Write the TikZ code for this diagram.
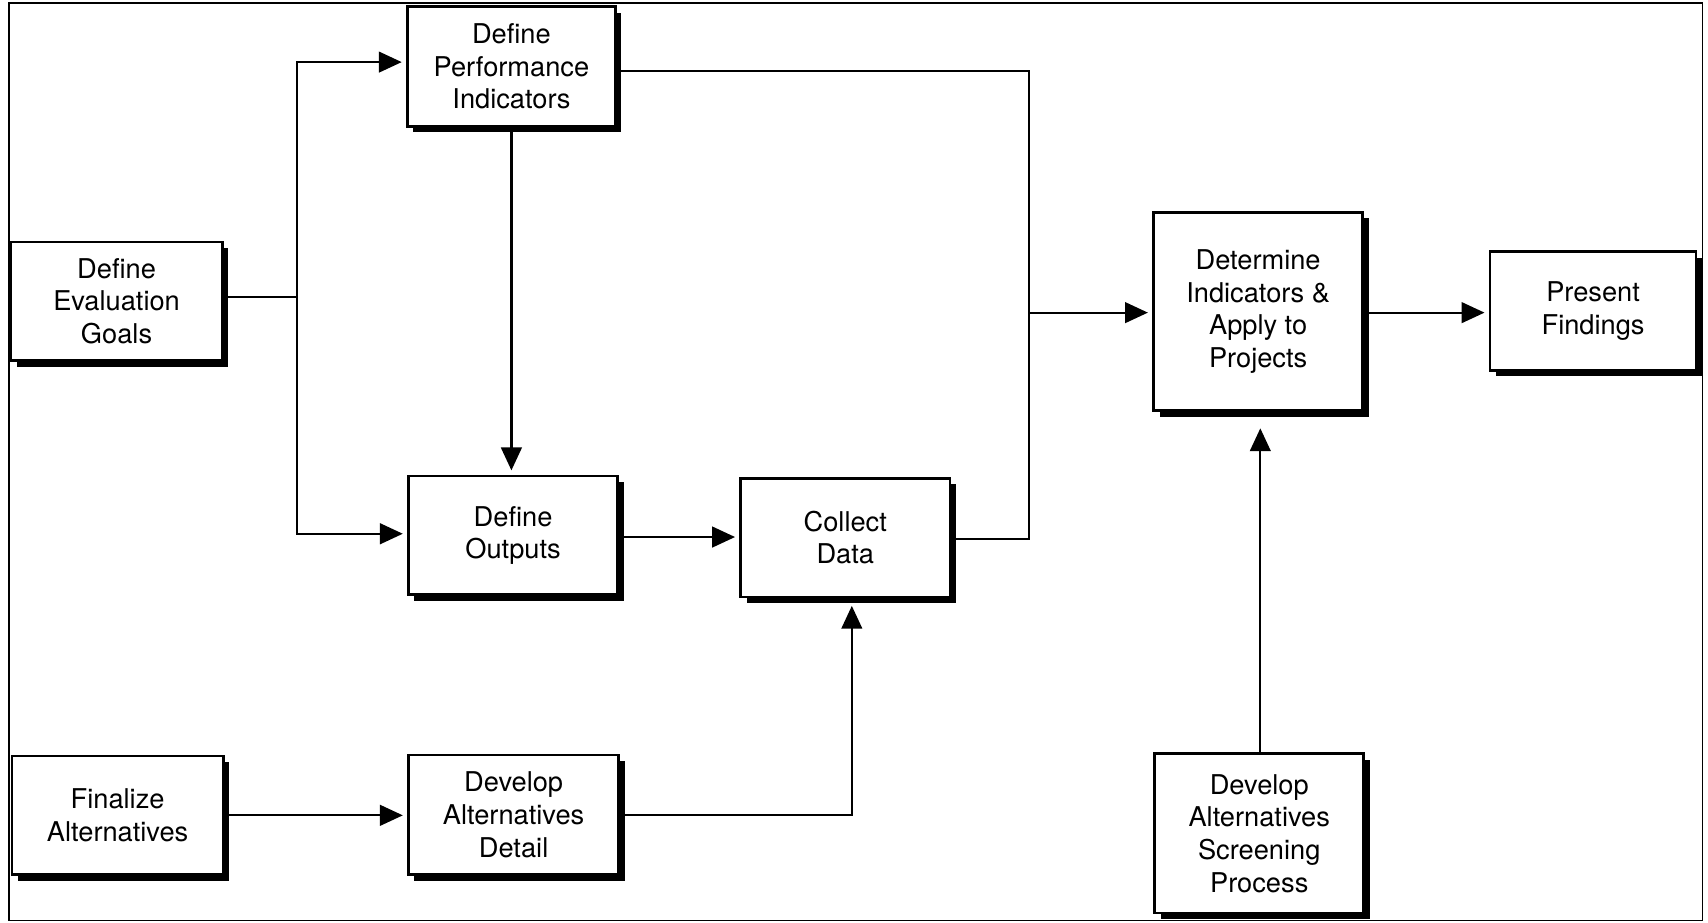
\documentclass[tikz,border=0pt]{standalone}
\usepackage{fontspec}
\setmainfont{TeX Gyre Heros}
\usetikzlibrary{arrows.meta,shadows}
\begin{document}
\begin{tikzpicture}[x=1pt,y=-1pt,
  box/.style={draw=black, line width=2.4pt, fill=white, align=center, inner sep=0pt,
    font=\fontsize{25}{30}\selectfont,
    drop shadow={shadow xshift=5.5pt, shadow yshift=-5.5pt, fill=black, opacity=1}},
  conn/.style={line width=2pt},
  arr/.style={conn, -{Triangle[length=21pt,width=19pt]}, shorten >=4pt}]
\useasboundingbox (0,0) rectangle (1568,847);
\draw[line width=1.6pt] (8,3) rectangle (1563,845);

\node[box, minimum width=194pt, minimum height=109pt] (goals) at (107,276.5) {Define\\Evaluation\\Goals};
\node[box, minimum width=191pt, minimum height=110pt] (perf) at (469.5,61) {Define\\Performance\\Indicators};
\node[box, minimum width=192pt, minimum height=109pt] (outputs) at (471,491.5) {Define\\Outputs};
\node[box, minimum width=192pt, minimum height=109pt] (collect) at (776,493.5) {Collect\\Data};
\node[box, minimum width=194pt, minimum height=109pt] (finalize) at (108,748.5) {Finalize\\Alternatives};
\node[box, minimum width=193pt, minimum height=110pt] (detail) at (471.5,748) {Develop\\Alternatives\\Detail};
\node[box, minimum width=192pt, minimum height=182pt] (determine) at (1155,286) {Determine\\Indicators \&\\Apply to\\Projects};
\node[box, minimum width=189pt, minimum height=109pt] (present) at (1462.5,285.5) {Present\\Findings};
\node[box, minimum width=192pt, minimum height=146pt] (screening) at (1156,765) {Develop\\Alternatives\\Screening\\Process};

\coordinate (ja) at (273,57);
\coordinate (jb) at (273,490);
\coordinate (jm) at (273,273);
\coordinate (ka) at (945,65);
\coordinate (kb) at (945,495);
\coordinate (km) at (945,287);
\coordinate (lc) at (782,748);

\draw[conn] (goals.east |- jm) -- (jm);
\draw[arr] (jm) -- (ja) -- (perf.west |- ja);
\draw[arr] (jm) -- (jb) -- (outputs.west |- jb);
\draw[arr] (perf.south) -- (perf.south |- outputs.north);
\draw[conn] (perf.east |- ka) -- (ka) -- (kb) -- (collect.east |- kb);
\draw[arr] (km) -- (determine.west |- km);
\draw[arr] (outputs.east |- 0,493) -- (collect.west |- 0,493);
\draw[arr] (finalize.east) -- (detail.west |- finalize.east);
\draw[arr, shorten >=7pt] (detail.east) -- (lc) -- (collect.south -| lc);
\draw[arr, shorten >=15pt] (screening.north -| 1157,0) -- (determine.south -| 1157,0);
\draw[arr] (determine.east |- km) -- (present.west |- km);
\end{tikzpicture}
\end{document}
